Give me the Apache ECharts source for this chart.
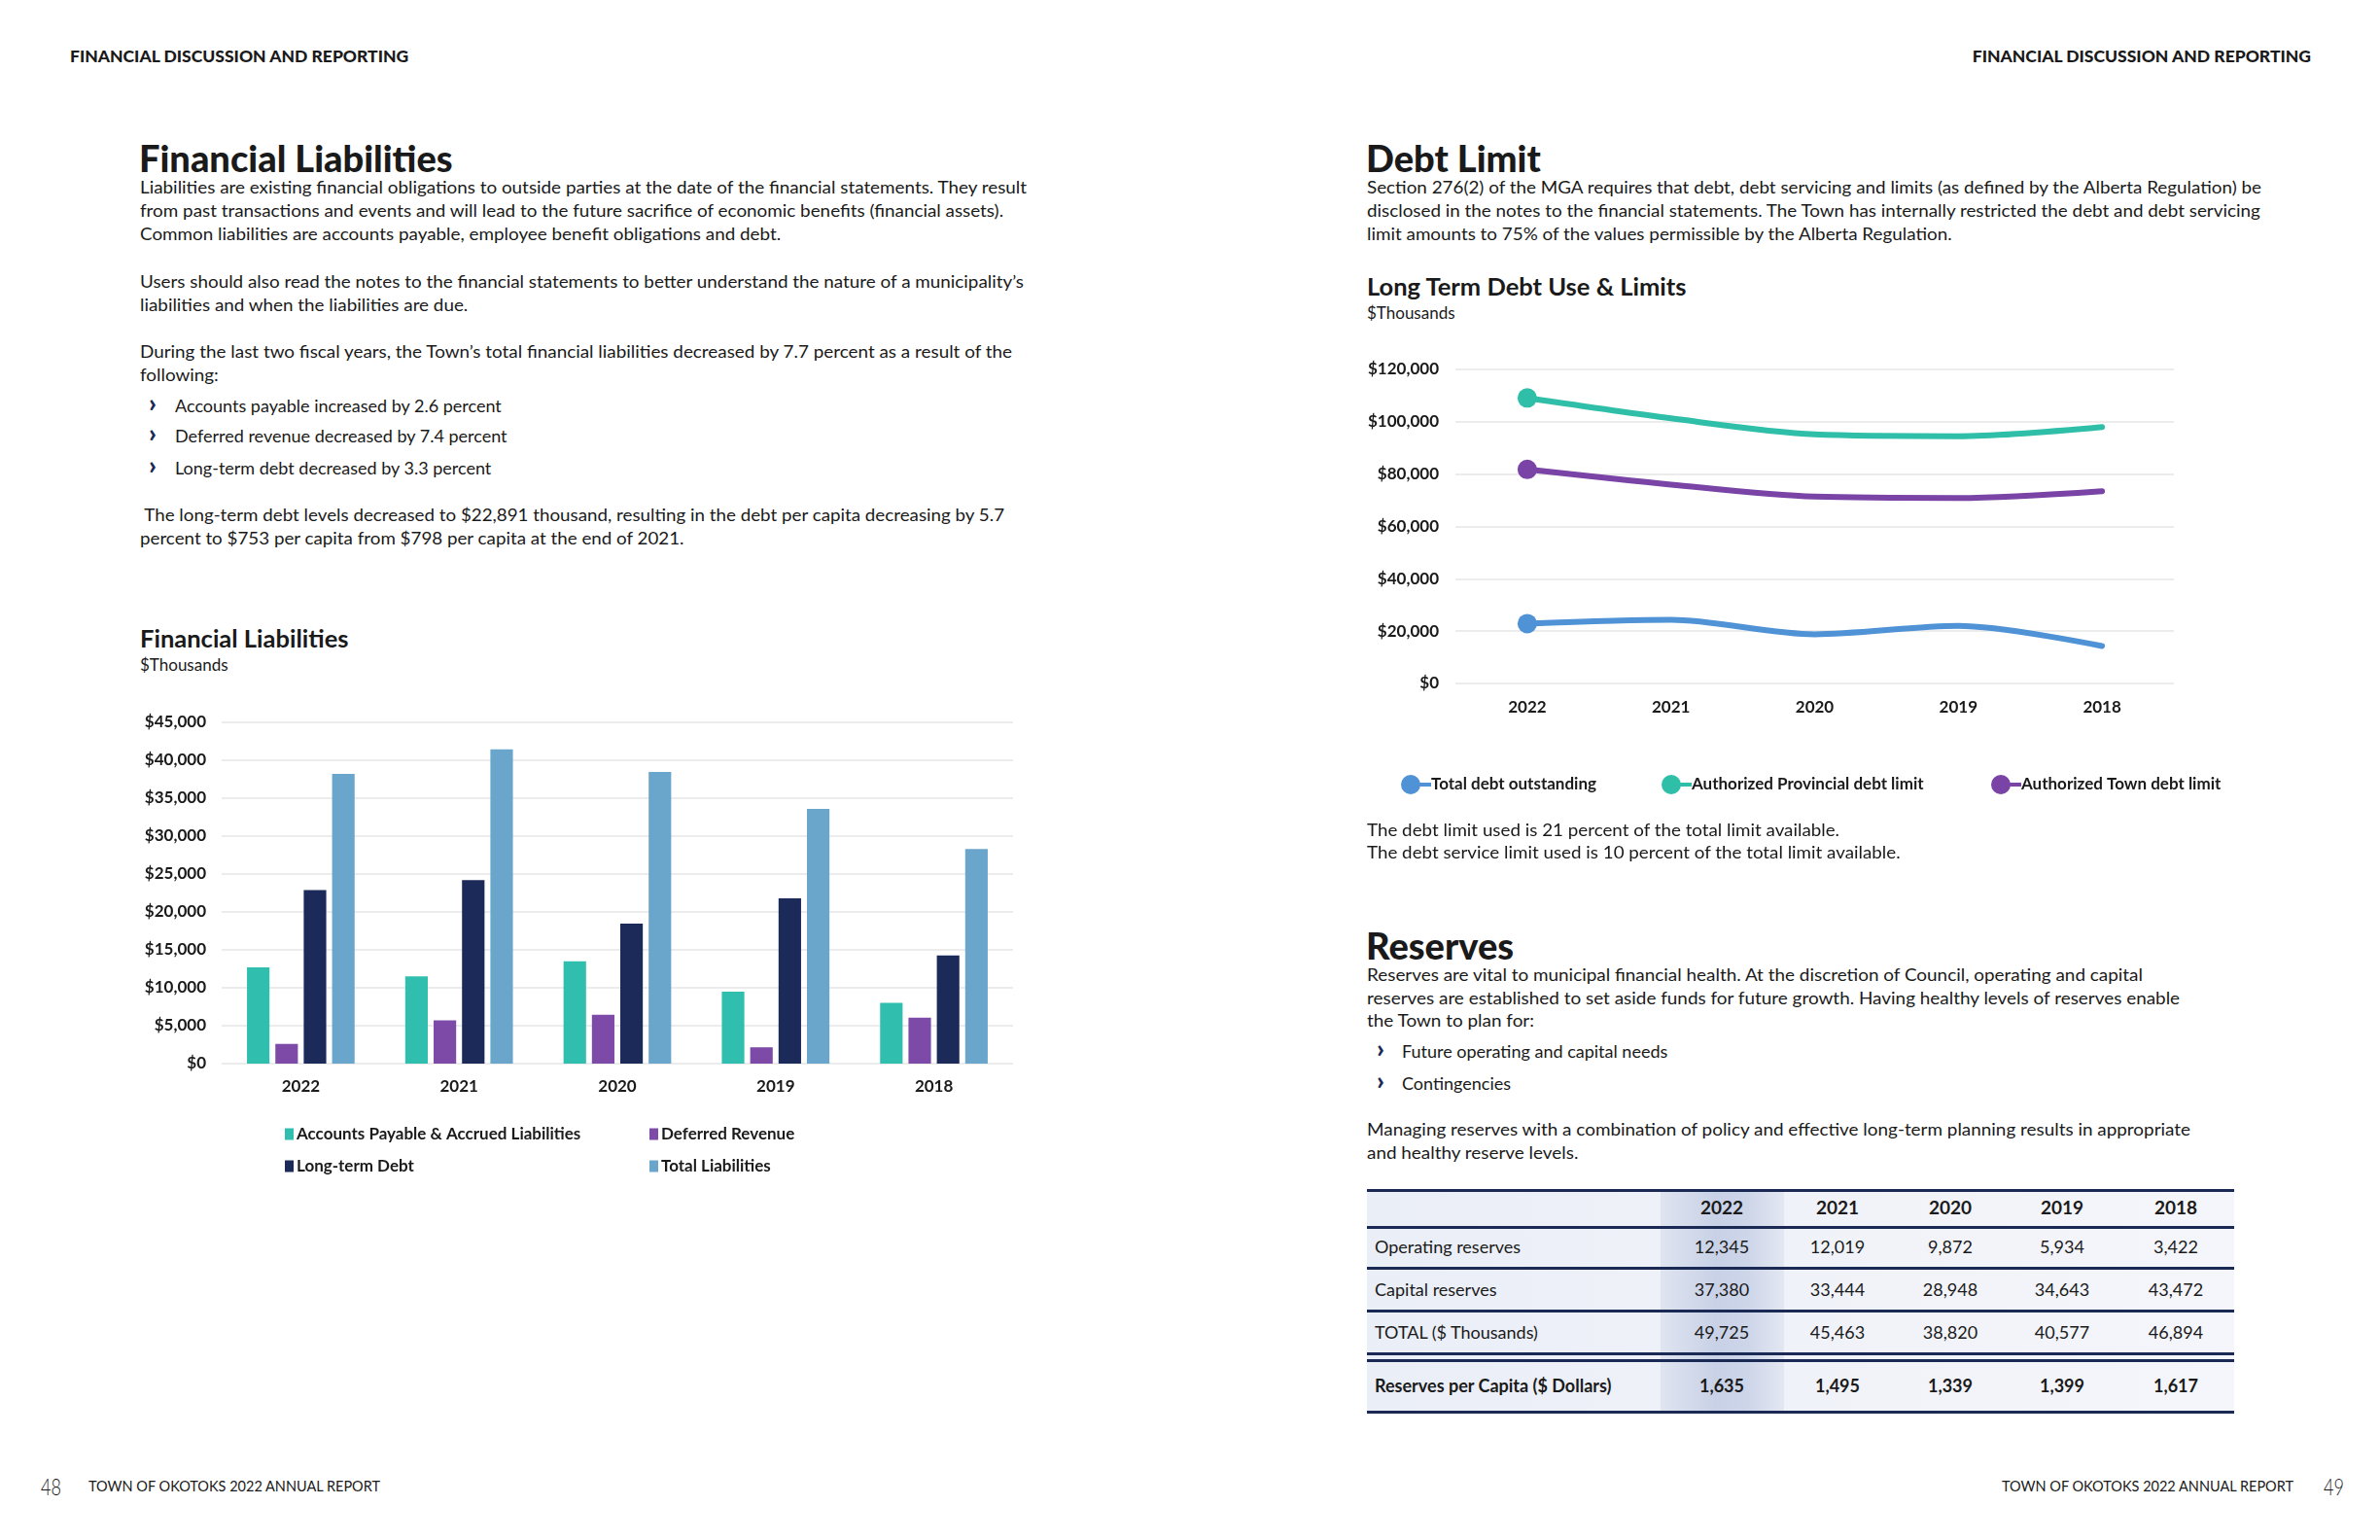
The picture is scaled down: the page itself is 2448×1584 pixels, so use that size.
<!DOCTYPE html>
<html><head><meta charset="utf-8">
<script src="https://cdn.jsdelivr.net/npm/echarts@6.0.0/dist/echarts.min.js"></script>
<style>
html,body{margin:0;padding:0;background:#fff;}
body{width:2448px;height:1584px;position:relative;overflow:hidden;font-family:Lato,'Noto Sans',sans-serif;color:#1a1a1a;}
.abs{position:absolute;white-space:nowrap;}
.hdr{font-size:17.5px;font-weight:900;line-height:20px;}
.h1{font-size:38px;font-weight:900;line-height:44px;}
.p{font-size:18px;line-height:24.2px;transform-origin:0 0;}
.h2{font-size:25.5px;font-weight:700;line-height:30px;}
.sub{font-size:17px;line-height:22px;}
.bul{font-size:18px;line-height:32px;}
.chev{font-size:27px;font-weight:900;line-height:30px;color:#1b2a55;}
.foot{font-size:14.5px;line-height:20px;}
.pnum{font-size:24px;line-height:24px;font-weight:300;transform:scaleX(0.75);transform-origin:0 0;}
.tline{position:absolute;height:3px;background:#1b2a55;}
.cell{position:absolute;white-space:nowrap;font-size:18px;line-height:24px;}
</style></head>
<body>

<!-- Left page -->
<div class="abs hdr" style="left:72px;top:48px;">FINANCIAL DISCUSSION AND REPORTING</div>
<div class="abs h1" style="left:143px;top:140px;">Financial Liabilities</div>
<div class="abs p" data-w="912" style="left:144px;top:180px;">Liabilities are existing financial obligations to outside parties at the date of the financial statements. They result<br>from past transactions and events and will lead to the future sacrifice of economic benefits (financial assets).<br>Common liabilities are accounts payable, employee benefit obligations and debt.</div>
<div class="abs p" data-w="909" style="left:144px;top:277px;">Users should also read the notes to the financial statements to better understand the nature of a municipality’s<br>liabilities and when the liabilities are due.</div>
<div class="abs p" data-w="897" style="left:144px;top:349px;">During the last two fiscal years, the Town’s total financial liabilities decreased by 7.7 percent as a result of the<br>following:</div>
<div class="abs chev" style="left:153px;top:399px;">›</div><div class="abs bul" style="left:180px;top:401px;">Accounts payable increased by 2.6 percent</div>
<div class="abs chev" style="left:153px;top:430px;">›</div><div class="abs bul" style="left:180px;top:432px;">Deferred revenue decreased by 7.4 percent</div>
<div class="abs chev" style="left:153px;top:463px;">›</div><div class="abs bul" style="left:180px;top:465px;">Long-term debt decreased by 3.3 percent</div>
<div class="abs p" data-w="889" style="left:144px;top:517px;">&nbsp;The long-term debt levels decreased to $22,891 thousand, resulting in the debt per capita decreasing by 5.7<br>percent to $753 per capita from $798 per capita at the end of 2021.</div>

<div class="abs h2" style="left:144px;top:641px;">Financial Liabilities</div>
<div class="abs sub" style="left:144px;top:673px;">$Thousands</div>
<div id="bar" class="abs" style="left:120px;top:720px;width:960px;height:520px;"></div>

<div class="abs pnum" style="left:42px;top:1517px;">48</div>
<div class="abs foot" style="left:91px;top:1519px;">TOWN OF OKOTOKS 2022 ANNUAL REPORT</div>

<!-- Right page -->
<div class="abs hdr" style="right:71px;top:48px;">FINANCIAL DISCUSSION AND REPORTING</div>
<div class="abs h1" style="left:1405px;top:140px;">Debt Limit</div>
<div class="abs p" data-w="920" style="left:1406px;top:180px;">Section 276(2) of the MGA requires that debt, debt servicing and limits (as defined by the Alberta Regulation) be<br>disclosed in the notes to the financial statements. The Town has internally restricted the debt and debt servicing<br>limit amounts to 75% of the values permissible by the Alberta Regulation.</div>
<div class="abs h2" style="left:1406px;top:279px;">Long Term Debt Use &amp; Limits</div>
<div class="abs sub" style="left:1406px;top:311px;">$Thousands</div>
<div id="line" class="abs" style="left:1400px;top:350px;width:1000px;height:500px;"></div>
<div class="abs p" data-w="486" style="left:1406px;top:842px;line-height:23px;">The debt limit used is 21 percent of the total limit available.<br>The debt service limit used is 10 percent of the total limit available.</div>

<div class="abs h1" style="left:1405px;top:950px;">Reserves</div>
<div class="abs p" data-w="798" style="left:1406px;top:991px;line-height:23.5px;">Reserves are vital to municipal financial health. At the discretion of Council, operating and capital<br>reserves are established to set aside funds for future growth. Having healthy levels of reserves enable<br>the Town to plan for:</div>
<div class="abs chev" style="left:1416px;top:1063px;">›</div><div class="abs bul" style="left:1442px;top:1065px;">Future operating and capital needs</div>
<div class="abs chev" style="left:1416px;top:1096px;">›</div><div class="abs bul" style="left:1442px;top:1098px;">Contingencies</div>
<div class="abs p" data-w="847" style="left:1406px;top:1150px;line-height:23.6px;">Managing reserves with a combination of policy and effective long-term planning results in appropriate<br>and healthy reserve levels.</div>

<div id="table"></div>

<div class="abs foot" style="right:89px;top:1519px;">TOWN OF OKOTOKS 2022 ANNUAL REPORT</div>
<div class="abs pnum" style="left:2390px;top:1517px;">49</div>

<script>
// ---------- Data ----------
const years = ['2022', '2021', '2020', '2019', '2018'];

// Financial Liabilities ($ thousands)
const accountsPayable = [12700, 11500, 13500, 9500, 8000];
const deferredRevenue = [2600, 5700, 6450, 2150, 6050];
const longTermDebt = [22891, 24200, 18450, 21800, 14250];
const totalLiabilities = [38200, 41450, 38450, 33600, 28300];
const barTicks = {min: 0, max: 45000, interval: 5000};

// Long Term Debt Use & Limits ($ thousands)
const totalDebtOutstanding = [22891, 24300, 18800, 22000, 14300];
const provincialDebtLimit = [109100, 101300, 95200, 94500, 98000];
const townDebtLimit = [81800, 76000, 71400, 70900, 73500];
const lineTicks = {min: 0, max: 120000, interval: 20000};

// Reserves table
const tableRowLabels = ['Operating reserves', 'Capital reserves', 'TOTAL ($ Thousands)', 'Reserves per Capita ($ Dollars)'];
const operatingReserves = [12345, 12019, 9872, 5934, 3422];
const capitalReserves = [37380, 33444, 28948, 34643, 43472];
const totalReserves = [49725, 45463, 38820, 40577, 46894];
const reservesPerCapita = [1635, 1495, 1339, 1399, 1617];

// ---------- Text fitting ----------
document.querySelectorAll('.p[data-w]').forEach(el => {
  const target = +el.dataset.w;
  const first = el.innerHTML.split('<br>')[0];
  const m = document.createElement('span');
  m.className = 'abs p';
  m.style.cssText = 'left:0;top:0;visibility:hidden;';
  m.innerHTML = first;
  document.body.appendChild(m);
  const w = m.getBoundingClientRect().width;
  m.remove();
  if (w > 0) el.style.transform = 'scaleX(' + (target / w).toFixed(4) + ')';
});

// ---------- Table ----------
(function () {
  const t = document.getElementById('table');
  const L = 1406, R = 2298, TOP = 1223, BOT = 1454;
  const colCenters = [1771, 1890, 2006, 2121, 2238];
  const fmt = v => v.toLocaleString('en-US');
  let html = '';
  html += `<div style="position:absolute;left:${L}px;top:${TOP}px;width:${R-L}px;height:${BOT-TOP}px;background:linear-gradient(to right,#eaeef7,#f1f3f9 60%,#f5f6fb);"></div>`;
  html += `<div style="position:absolute;left:1708px;top:${TOP}px;width:127px;height:${BOT-TOP}px;background:linear-gradient(to right,#dfe4f0,#c8d1e6 45%,#cdd5e9 70%,#e3e7f2);"></div>`;
  [1223, 1261, 1303, 1347, 1391, 1398, 1451].forEach(y => {
    html += `<div class="tline" style="left:${L}px;top:${y}px;width:${R-L}px;"></div>`;
  });
  const rowCenters = [1282, 1326, 1370, 1425];
  const rows = [operatingReserves, capitalReserves, totalReserves, reservesPerCapita];
  years.forEach((y, i) => {
    html += `<div class="cell" style="left:${colCenters[i]-60}px;width:120px;text-align:center;top:${1242-12}px;font-weight:700;font-size:19px;">${y}</div>`;
  });
  rows.forEach((vals, r) => {
    const bold = r === 3 ? 'font-weight:700;' : '';
    html += `<div class="cell" style="left:1414px;top:${rowCenters[r]-12}px;${bold}">${tableRowLabels[r]}</div>`;
    vals.forEach((v, i) => {
      html += `<div class="cell" style="left:${colCenters[i]-60}px;width:120px;text-align:center;top:${rowCenters[r]-12}px;${bold}">${fmt(v)}</div>`;
    });
  });
  t.innerHTML = html;
})();

// ---------- Bar chart ----------
const labelStyle = {fontFamily: 'Lato', fontWeight: 'bold', fontSize: 17, color: '#1a1a1a'};
const money = v => '$' + v.toLocaleString('en-US');
const barColors = ['#30bfae', '#7d4aa8', '#1b2a59', '#6aa6cb'];
const barNames = ['Accounts Payable & Accrued Liabilities', 'Deferred Revenue', 'Long-term Debt', 'Total Liabilities'];
const barData = [accountsPayable, deferredRevenue, longTermDebt, totalLiabilities];
const barLegendPos = [[173, 438], [548, 438], [173, 471], [548, 471]];

const bar = echarts.init(document.getElementById('bar'));
bar.setOption({
  animation: false,
  grid: {left: 108, right: 38, top: 23, bottom: 146},
  legend: barNames.map((n, i) => ({
    data: [n], left: barLegendPos[i][0], top: barLegendPos[i][1], padding: 0,
    icon: 'rect', itemWidth: 9, itemHeight: 12, itemGap: 4,
    textStyle: {fontFamily: 'Lato', fontWeight: 'bold', fontSize: 17, color: '#1a1a1a', padding: [0, 0, 0, -2]}
  })),
  xAxis: {
    type: 'category', data: years,
    axisLine: {show: false}, axisTick: {show: false},
    axisLabel: Object.assign({margin: 15}, labelStyle)
  },
  yAxis: {
    type: 'value', min: barTicks.min, max: barTicks.max, interval: barTicks.interval,
    axisLabel: Object.assign({margin: 16, formatter: money}, labelStyle),
    splitLine: {lineStyle: {color: '#e6e6e6', width: 1.5}}
  },
  series: barNames.map((n, i) => ({
    name: n, type: 'bar', data: barData[i],
    itemStyle: {color: barColors[i]},
    barGap: '26%', barCategoryGap: '32%'
  }))
});

// ---------- Line chart ----------
const lineColors = ['#4f93d6', '#2fbfa9', '#7a44a6'];
const lineNames = ['Total debt outstanding', 'Authorized Provincial debt limit', 'Authorized Town debt limit'];
const lineData = [totalDebtOutstanding, provincialDebtLimit, townDebtLimit];
const lineLegendLeft = [41, 309, 648];
const legendIcon = 'path://M0,10A10,10 0 1,1 20,10A10,10 0 1,1 0,10Z M17,8L31,8L31,12L17,12Z';

const line = echarts.init(document.getElementById('line'));
line.setOption({
  animation: false,
  grid: {left: 97, right: 164, top: 30, bottom: 147},
  legend: lineNames.map((n, i) => ({
    data: [{name: n, icon: legendIcon}], left: lineLegendLeft[i], top: 447, padding: 0,
    itemWidth: 31, itemHeight: 20,
    itemStyle: {borderWidth: 0},
    textStyle: {fontFamily: 'Lato', fontWeight: 'bold', fontSize: 17, color: '#1a1a1a', padding: [0, 0, 0, -5]}
  })),
  xAxis: {
    type: 'category', data: years, boundaryGap: true,
    axisLine: {show: false}, axisTick: {show: false},
    axisLabel: Object.assign({margin: 16}, labelStyle)
  },
  yAxis: {
    type: 'value', min: lineTicks.min, max: lineTicks.max, interval: lineTicks.interval,
    axisLabel: Object.assign({margin: 17, formatter: money}, labelStyle),
    splitLine: {lineStyle: {color: '#e6e6e6', width: 1.5}}
  },
  series: lineNames.map((n, i) => ({
    name: n, type: 'line', data: lineData[i], smooth: 0.3,
    showSymbol: true, showAllSymbol: true, symbol: 'circle',
    symbolSize: (v, p) => (p.dataIndex === 0 ? 20 : 0),
    lineStyle: {width: 6, color: lineColors[i], cap: 'round'},
    itemStyle: {color: lineColors[i]}
  }))
});
</script>
</body></html>
